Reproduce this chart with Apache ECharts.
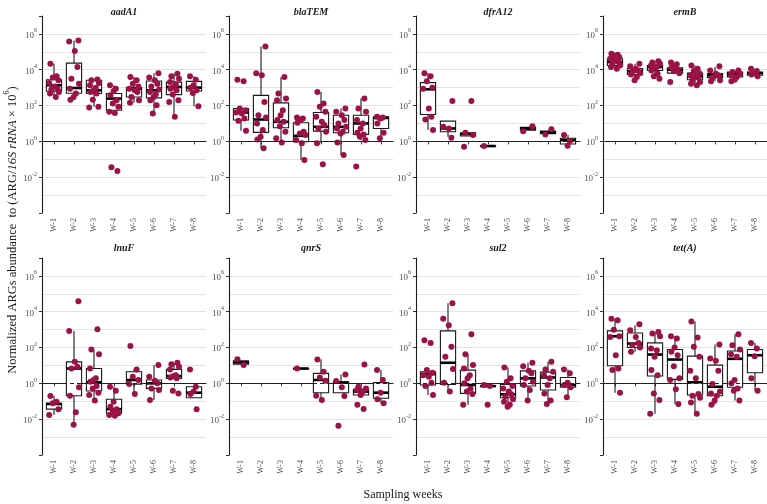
<!DOCTYPE html>
<html>
<head>
    <meta charset="utf-8">
    <title>ARG abundance by sampling week</title>
    <style>
        html, body, #main {
            width: 767px;
            height: 504px;
            margin: 0;
            padding: 0;
            background: #fff;
        }
    </style>
</head>
<body>
    <div id="main"></div>
    <script src="https://cdn.jsdelivr.net/npm/echarts@6/dist/echarts.min.js"></script>
    <script>
        // values are log10 of abundance
        const weekLabels = ['W-1', 'W-2', 'W-3', 'W-4', 'W-5', 'W-6', 'W-7', 'W-8'];
        const genes = ['aadA1', 'blaTEM', 'dfrA12', 'ermB', 'lnuF', 'qnrS', 'sul2', 'tet(A)'];
        const yTickExps = [-2, 0, 2, 4, 6];

        // box stats per week: [low whisker, Q1, median, Q3, high whisker]
        const aadA1Box = [[2.48, 2.80, 3.13, 3.44, 4.33], [2.33, 2.69, 2.98, 4.37, 5.63], [1.93, 2.67, 2.85, 3.41, 3.46], [1.65, 1.74, 2.39, 2.67, 3.13],
            [2.15, 2.48, 2.94, 3.00, 3.59], [1.56, 2.43, 2.85, 3.37, 3.81], [1.37, 2.61, 3.04, 3.31, 3.78], [1.96, 2.81, 3.00, 3.35, 3.63]];
        const blaTEMBox = [[0.59, 1.19, 1.61, 1.83, 1.83], [-0.39, 0.50, 1.22, 2.57, 5.30], [-0.07, 0.76, 1.09, 2.15, 3.59], [-1.04, -0.02, 0.31, 1.04, 1.33],
            [-0.11, 0.57, 0.81, 1.61, 2.76], [-0.76, 0.48, 0.81, 1.46, 1.83], [0.07, 0.39, 1.00, 1.46, 2.39], [0.17, 0.72, 1.31, 1.37, 1.37]];
        const dfrA12Box = [[0.63, 1.50, 2.91, 3.28, 3.81], [0.26, 0.54, 0.72, 1.13, 1.13], [0.30, 0.30, 0.41, 0.48, 0.48], [-0.26, -0.26, -0.26, -0.26, -0.26],
            null, [0.63, 0.63, 0.72, 0.78, 0.78], [0.43, 0.43, 0.50, 0.57, 0.57], [-0.15, -0.15, 0.07, 0.17, 0.35]];
        const ermBBox = [[4.06, 4.24, 4.43, 4.61, 4.89], [3.41, 3.74, 3.91, 4.06, 4.33], [3.50, 3.96, 4.15, 4.24, 4.48], [3.81, 3.81, 4.00, 4.11, 4.41],
            [3.13, 3.44, 3.63, 3.81, 4.24], [3.35, 3.56, 3.69, 3.78, 4.15], [3.35, 3.59, 3.78, 3.87, 3.96], [3.63, 3.69, 3.81, 3.87, 4.06]];
        const lnuFBox = [[-1.76, -1.44, -1.15, -1.11, -0.70], [-2.31, -0.69, 0.83, 1.20, 2.93], [-0.96, -0.43, 0.06, 0.83, 1.85], [-1.81, -1.67, -1.44, -0.89, -0.19],
            [-0.59, -0.04, 0.19, 0.65, 0.78], [-0.93, -0.28, 0.00, 0.19, 1.02], [0.28, 0.28, 0.41, 0.78, 1.15], [-0.80, -0.80, -0.52, -0.19, -0.19]];
        const qnrSBox = [[1.07, 1.07, 1.17, 1.26, 1.26], null, null, [0.83, 0.83, 0.83, 0.83, 0.83],
            [-0.93, -0.52, 0.19, 0.56, 1.33], [-0.52, -0.52, 0.04, 0.09, 0.50], [-0.65, -0.65, -0.46, -0.33, -0.19], [-1.11, -0.83, -0.52, 0.04, 0.74]];
        const sul2Box = [[-0.65, -0.09, 0.52, 0.65, 0.74], [-0.46, -0.06, 1.15, 2.93, 4.48], [-1.20, -0.56, -0.09, 0.74, 1.63], [-0.15, -0.15, -0.15, -0.15, -0.15],
            [-1.30, -0.80, -0.61, -0.06, 0.89], [-0.96, -0.15, 0.28, 0.70, 1.15], [-1.15, -0.37, 0.33, 0.63, 1.20], [-0.78, -0.22, -0.09, 0.33, 0.78]];
        const tetABox = [[-0.52, 0.98, 2.63, 2.93, 3.61], [1.76, 2.00, 2.22, 2.81, 3.24], [-1.70, 0.41, 1.61, 2.26, 2.87], [-1.15, 0.22, 1.33, 1.89, 2.63],
            [-1.70, -0.65, 0.06, 1.52, 3.46], [-1.20, -0.69, -0.19, 1.02, 2.17], [-0.96, -0.22, 1.37, 1.81, 2.74], [-0.41, 0.59, 1.57, 1.89, 2.26]];

        // individual samples per week
        const aadA1Pts = [
            [4.33, 3.63, 3.56, 3.41, 3.26, 3.07, 2.94, 2.89, 2.76, 2.67, 2.48],
            [5.63, 5.57, 5.04, 4.15, 3.50, 3.22, 2.94, 2.67, 2.48, 2.33],
            [3.46, 3.41, 3.26, 3.13, 3.00, 2.85, 2.76, 2.67, 2.33, 1.93, 1.89],
            [3.13, 2.94, 2.81, 2.57, 2.30, 2.11, 1.93, 1.65, 1.59, -1.65, -1.44],
            [3.59, 3.41, 3.22, 3.07, 2.94, 2.85, 2.76, 2.48, 2.30, 2.15],
            [3.81, 3.56, 3.41, 3.22, 3.07, 2.89, 2.76, 2.63, 2.48, 2.30, 2.02, 1.56],
            [3.78, 3.63, 3.50, 3.31, 3.17, 3.04, 2.94, 2.85, 2.61, 2.30, 2.20, 1.37],
            [3.63, 3.44, 3.13, 3.00, 2.85, 2.70, 1.96]];
        const blaTEMPts = [
            [3.44, 3.35, 1.83, 1.74, 1.61, 1.56, 1.28, 1.15, 0.59],
            [5.30, 3.81, 3.69, 2.20, 1.46, 1.33, 1.00, 0.63, 0.26, 0.11, -0.39],
            [3.59, 2.67, 2.39, 2.30, 1.74, 1.46, 1.19, 1.09, 0.85, 0.54, 0.17, -0.07],
            [1.33, 1.28, 1.19, 1.04, 0.54, 0.44, 0.35, 0.07, -0.11, -1.04],
            [2.76, 2.11, 1.93, 1.65, 1.37, 1.09, 0.91, 0.72, 0.54, -0.11, -1.28],
            [1.83, 1.65, 1.46, 1.19, 1.00, 0.81, 0.72, 0.54, 0.44, -0.07, -0.76],
            [2.39, 1.83, 1.65, 1.19, 1.00, 0.72, 0.48, 0.39, 0.26, 0.07, -1.41],
            [1.37, 1.33, 1.28, 1.00, 0.48, 0.17]];
        const dfrA12Pts = [
            [3.81, 3.63, 3.35, 3.00, 2.94, 1.83, 1.37, 1.22, 0.63],
            [2.26, 0.81, 0.72, 0.20],
            [2.26, 0.48, 0.35, -0.30],
            [-0.26],
            [],
            [0.85, 0.57],
            [0.67, 0.39],
            [0.35, 0.02, -0.24]];
        const ermBPts = [
            [4.89, 4.83, 4.80, 4.70, 4.61, 4.52, 4.43, 4.33, 4.24, 4.15, 4.06],
            [4.33, 4.19, 4.06, 3.96, 3.91, 3.81, 3.74, 3.59, 3.41],
            [4.48, 4.41, 4.33, 4.24, 4.15, 4.06, 3.96, 3.78, 3.63, 3.50],
            [4.41, 4.30, 4.19, 4.11, 4.00, 3.93, 3.81, 3.31],
            [4.24, 4.06, 3.93, 3.81, 3.69, 3.63, 3.56, 3.44, 3.31, 3.22, 3.13],
            [4.19, 3.96, 3.78, 3.69, 3.56, 3.41, 3.35],
            [3.96, 3.87, 3.78, 3.69, 3.59, 3.44, 3.35],
            [4.06, 3.93, 3.81, 3.74, 3.63]];
        const lnuFPts = [
            [-0.70, -1.02, -1.11, -1.44, -1.76],
            [4.59, 2.93, 1.20, 0.93, 0.83, -0.22, -0.69, -1.61, -2.31],
            [3.02, 1.89, 1.63, 0.83, 0.28, 0.19, 0.09, -0.15, -0.28, -0.52, -0.65, -0.96],
            [-0.19, -0.41, -1.02, -1.30, -1.44, -1.54, -1.67, -1.76, -1.81],
            [2.09, 0.78, 0.37, 0.19, -0.04, -0.59],
            [1.02, 0.37, 0.15, 0.00, -0.28, -0.37, -0.93],
            [1.15, 1.07, 0.93, 0.78, 0.46, 0.41, 0.33, 0.28, -0.41, -0.56],
            [0.78, -0.19, -0.46, -0.59, -1.44]];
        const qnrSPts = [
            [1.35, 1.02],
            [],
            [],
            [0.83],
            [1.33, 0.65, 0.33, 0.15, -0.69, -0.93],
            [0.50, 0.13, -0.22, -0.70, -2.37],
            [1.06, -0.19, -0.28, -0.37, -0.46, -0.65, -1.20, -1.43],
            [0.74, 0.19, -0.52, -0.89, -1.11]];
        const sul2Pts = [
            [2.41, 2.26, 0.74, 0.59, 0.46, 0.37, 0.04, -0.15, -0.65],
            [4.48, 3.61, 3.24, 2.04, 1.48, 0.80, 0.04, -0.46],
            [2.74, 1.63, 1.02, 0.83, 0.46, 0.28, 0.00, -0.28, -0.46, -0.59, -1.20],
            [-0.09, -0.15, -1.20],
            [0.89, 0.28, 0.09, -0.15, -0.28, -0.46, -0.61, -0.74, -0.89, -1.02, -1.20, -1.30],
            [1.15, 0.96, 0.70, 0.56, 0.28, 0.09, -0.09, -0.37, -0.96],
            [1.20, 0.78, 0.65, 0.46, 0.28, -0.09, -0.56, -0.96, -1.15],
            [0.78, 0.56, 0.04, -0.09, -0.22, -0.78]];
        const tetAPts = [
            [3.61, 3.52, 3.00, 2.63, 2.59, 1.57, 0.83, 0.74, -0.52],
            [3.30, 2.96, 2.59, 2.26, 2.13, 2.00, 1.76],
            [2.87, 2.78, 2.63, 1.94, 1.85, 1.48, 0.74, 0.46, -0.56, -0.93, -1.70],
            [2.63, 2.50, 2.00, 1.76, 1.57, 0.96, 0.28, 0.19, -0.33, -1.15],
            [3.46, 2.56, 2.04, 1.48, 0.70, 0.28, -0.59, -0.69, -0.80, -1.07, -1.70],
            [2.17, 1.39, 1.26, 0.70, -0.04, -0.46, -0.56, -0.69, -0.96, -1.20],
            [2.74, 2.13, 1.89, 1.63, 1.48, 0.19, 0.00, -0.28, -0.41, -0.96],
            [2.26, 1.94, 1.52, 0.28, -0.41]];

        const allBoxes = [aadA1Box, blaTEMBox, dfrA12Box, ermBBox, lnuFBox, qnrSBox, sul2Box, tetABox];
        const allPts = [aadA1Pts, blaTEMPts, dfrA12Pts, ermBPts, lnuFPts, qnrSPts, sul2Pts, tetAPts];

        // horizontal spread of the dots (fraction of a week slot)
        const jitter = [-0.18, 0.13, -0.06, 0.22, -0.24, 0.04, 0.17, -0.13, 0.25, -0.2, 0.09, -0.02];

        const serif = "'Liberation Serif', 'DejaVu Serif', serif";
        const dotColor = '#9b1246';
        const panelLeft = [42, 229, 416, 603];
        const panelTop = [16, 258];
        const panelW = 164, panelH = 197;

        // grid colours: no line at -4, 0 (dashed line there) and 7
        const gridColors = [];
        for (let e = -4; e <= 7; e++) {
            gridColors.push((e === -4 || e === 0 || e === 7) ? 'rgba(0,0,0,0)' : '#e3e3e3');
        }

        function renderBox(params, api) {
            const x = api.value(0);
            const lo = api.coord([x, api.value(1)]);
            const q1 = api.coord([x, api.value(2)]);
            const md = api.coord([x, api.value(3)]);
            const q3 = api.coord([x, api.value(4)]);
            const hi = api.coord([x, api.value(5)]);
            const hw = api.size([1, 0])[0] * 0.38;
            const cx = lo[0];
            const st = { stroke: '#1a1a1a', lineWidth: 1.1 };
            return {
                type: 'group',
                children: [
                    { type: 'line', shape: { x1: cx, y1: hi[1], x2: cx, y2: q3[1] }, style: st },
                    { type: 'line', shape: { x1: cx, y1: q1[1], x2: cx, y2: lo[1] }, style: st },
                    { type: 'rect', shape: { x: cx - hw, y: q3[1], width: hw * 2, height: Math.max(q1[1] - q3[1], 0.5) },
                      style: { fill: '#fff', stroke: '#1a1a1a', lineWidth: 1.1 } },
                    { type: 'line', shape: { x1: cx - hw, y1: md[1], x2: cx + hw, y2: md[1] }, style: { stroke: '#000', lineWidth: 2.6 } }
                ]
            };
        }

        const grids = [], xAxes = [], yAxes = [], series = [], graphics = [];

        genes.forEach(function (gene, g) {
            const left = panelLeft[g % 4];
            const top = panelTop[Math.floor(g / 4)];
            grids.push({ left: left, top: top, width: panelW, height: panelH });

            xAxes.push({
                gridIndex: g, type: 'value', min: 0.4, max: 8.6,
                axisLine: { show: true, lineStyle: { color: '#1a1a1a', width: 1.1 } },
                axisTick: { show: true, customValues: [1, 2, 3, 4, 5, 6, 7, 8], length: 3, lineStyle: { color: '#333' } },
                axisLabel: {
                    customValues: [1, 2, 3, 4, 5, 6, 7, 8], rotate: 90, margin: 5,
                    formatter: function (v) { return weekLabels[Math.round(v) - 1]; },
                    fontFamily: serif, fontSize: 8, color: '#4d4d4d'
                },
                splitLine: { show: false }
            });

            yAxes.push({
                gridIndex: g, type: 'value', min: -4, max: 7, interval: 1,
                axisLine: { show: true, lineStyle: { color: '#1a1a1a', width: 1.1 } },
                axisTick: { show: false },
                splitLine: { show: true, lineStyle: { color: gridColors, width: 1 } },
                axisLabel: {
                    margin: 5,
                    formatter: function (v) {
                        return yTickExps.indexOf(v) >= 0 ? '{b|10}{s|' + v + '}' : '';
                    },
                    rich: {
                        b: { fontFamily: serif, fontSize: 9, color: '#4d4d4d', lineHeight: 12, verticalAlign: 'bottom' },
                        s: { fontFamily: serif, fontSize: 6, color: '#4d4d4d', lineHeight: 7, verticalAlign: 'top' }
                    }
                }
            });

            const boxData = [];
            allBoxes[g].forEach(function (b, i) {
                if (b) boxData.push([i + 1].concat(b));
            });
            series.push({
                type: 'custom', xAxisIndex: g, yAxisIndex: g, z: 2,
                renderItem: renderBox, data: boxData,
                encode: { x: 0, y: [1, 2, 3, 4, 5] }, silent: true
            });

            const ptData = [];
            allPts[g].forEach(function (arr, i) {
                arr.forEach(function (v, k) {
                    ptData.push([i + 1 + jitter[(k + i * 3) % jitter.length], v]);
                });
            });
            series.push({
                type: 'scatter', xAxisIndex: g, yAxisIndex: g, z: 3,
                symbolSize: 6, itemStyle: { color: dotColor, opacity: 1 },
                data: ptData, silent: true,
                markLine: {
                    silent: true, symbol: 'none', label: { show: false },
                    lineStyle: { type: [4, 3], color: '#222', width: 1 },
                    data: [{ yAxis: 0 }]
                }
            });

            graphics.push({
                type: 'text', x: left + panelW / 2, y: top - (g < 4 ? 4 : 10),
                style: { text: gene, align: 'center', verticalAlign: 'middle',
                    font: 'italic bold 10px ' + serif, fill: '#1a1a1a' }
            });
        });

        // second y axis per panel only for the small ticks at the labelled decades
        genes.forEach(function (gene, g) {
            yAxes.push({
                gridIndex: g, type: 'value', min: -4, max: 7, interval: 2, position: 'left',
                axisLine: { show: false },
                axisTick: { show: true, length: 3, lineStyle: { color: '#333' } },
                axisLabel: { show: false },
                splitLine: { show: false }
            });
        });

        graphics.push({
            type: 'text', x: 11, y: 230, rotation: Math.PI / 2,
            style: {
                text: '{t|Normalized ARGs abundance  to (ARG/}{i|16S rRNA}{t| × 10}{s|6}{t|)}',
                align: 'center', verticalAlign: 'middle',
                rich: {
                    t: { fontFamily: serif, fontSize: 12.5, fill: '#1a1a1a', lineHeight: 16, verticalAlign: 'bottom' },
                    i: { fontFamily: serif, fontSize: 12.5, fontStyle: 'italic', fill: '#1a1a1a', lineHeight: 16, verticalAlign: 'bottom' },
                    s: { fontFamily: serif, fontSize: 8, fill: '#1a1a1a', lineHeight: 9, verticalAlign: 'top' }
                }
            }
        });
        graphics.push({
            type: 'text', x: 403, y: 495,
            style: { text: 'Sampling weeks', align: 'center', verticalAlign: 'middle',
                font: '12px ' + serif, fill: '#1a1a1a' }
        });

        const chart = echarts.init(document.getElementById('main'), null, { renderer: 'canvas' });
        chart.setOption({
            animation: false,
            backgroundColor: '#fff',
            grid: grids,
            xAxis: xAxes,
            yAxis: yAxes,
            series: series,
            graphic: graphics
        });
    </script>
</body>
</html>
